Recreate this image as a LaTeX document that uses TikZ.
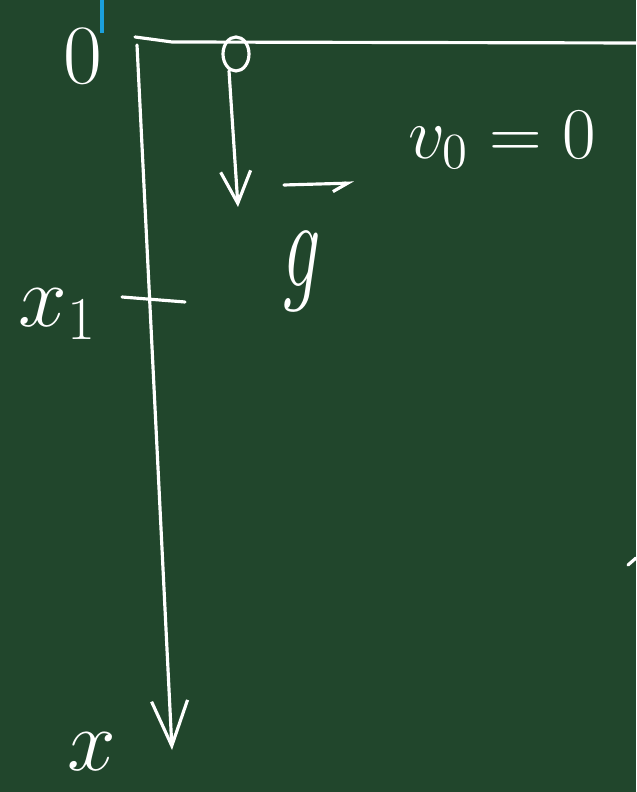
\documentclass[tikz,border=0pt]{standalone}
\usepackage{amsmath}
\usepackage{graphicx}
\usepackage{tikz}
\usetikzlibrary{arrows.meta}
\definecolor{board}{RGB}{33,70,44}
\definecolor{penblue}{RGB}{27,160,220}

\begin{document}
\begin{tikzpicture}[x=0.01cm,y=-0.01cm,
  chalk/.style={white, line width=0.9pt, line cap=round, line join=round},
  hand/.style={white, inner sep=0pt}]
\fill[board] (0,0) rectangle (636,792);
\useasboundingbox (0,0) rectangle (636,792);
\draw[penblue, line width=1.2pt] (102,0) -- (102,33); % pen mark
% axes
\coordinate (top) at (135,37);
\coordinate (right) at (636,43);
\coordinate (axtop) at (137,45);
\coordinate (axend) at (172,750);
\draw[chalk] (top) .. controls (150,39) .. (172,42) -- (right);
\draw[chalk, -{Straight Barb[length=4.5mm,width=3.6mm]}] (axtop) -- (axend);
% tick for x1
\coordinate (tickL) at (122,297);
\coordinate (tickR) at (185,302);
\draw[chalk] (tickL) -- (tickR);
% ball and g arrow
\draw[chalk] (236,54) ellipse (13 and 17);
\coordinate (ball) at (229,71);
\coordinate (fall) at (238,207);
\draw[chalk, -{Straight Barb[length=3.2mm,width=3mm]}] (ball) -- (fall);
\coordinate (gA) at (284,185);
\coordinate (gB) at (354,183);
\draw[chalk, -{Straight Barb[right,length=1.5mm,width=1.6mm]}] (gA) -- (gB);
\draw[chalk] (628,565) -- (636,558); % stray mark
% labels
\node[hand, font=\fontsize{24}{26}\selectfont] (orig) at (83,56) {0};
\node[hand, font=\fontsize{22}{24}\selectfont] (v0) at (502,140) {$v_0=0$};
\node[hand, font=\fontsize{36}{40}\selectfont] (g) at (302,272) {\scalebox{0.85}[1.45]{$g$}};
\node[hand, font=\fontsize{36}{40}\selectfont] (x1) at (58,314) {$x_{\scriptscriptstyle 1}$};
\node[hand, font=\fontsize{36}{40}\selectfont] (x) at (92,752) {$x$};
\end{tikzpicture}
\end{document}
